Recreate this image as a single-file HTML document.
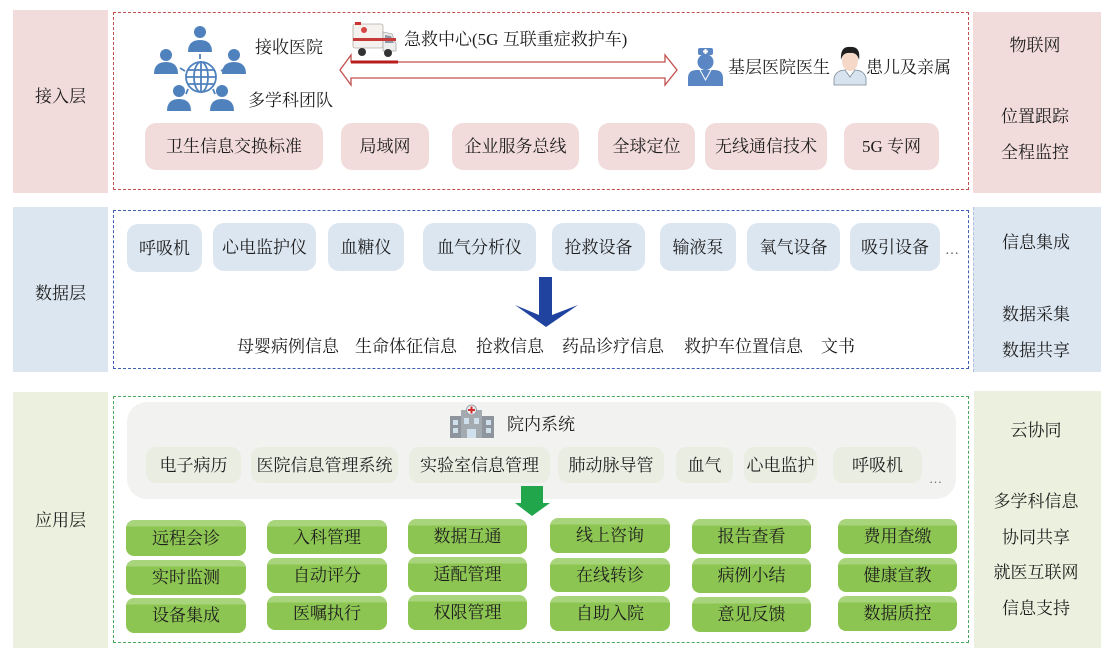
<!DOCTYPE html>
<html lang="zh">
<head>
<meta charset="utf-8">
<style>
  html,body{margin:0;padding:0;background:#fff;}
  body{width:1108px;height:653px;position:relative;overflow:hidden;
       font-family:"Liberation Serif","Noto Serif CJK SC",serif;color:#1e1e1e;font-size:17px;}
  .a{position:absolute;box-sizing:border-box;}
  .side-r{background:#f2dcdb;}
  .side-b{background:#dce6f1;}
  .side-g{background:#ebf1de;}
  .lbl{position:absolute;text-align:center;line-height:22px;white-space:nowrap;}
  .box{position:absolute;box-sizing:border-box;display:flex;align-items:center;justify-content:center;
       white-space:nowrap;line-height:1;}
  .pk{background:#f2dcdb;border-radius:11px;}
  .bl{background:#dce6f1;border-radius:11px;}
  .gy{background:#e9ede2;border-radius:10px;}
  .gr{background:linear-gradient(#a8d47c 0px,#a8d47c 6px,#8dc553 7px,#8dc553 100%);border-radius:8px;}
  .t{position:absolute;line-height:22px;white-space:nowrap;}
</style>
</head>
<body>

<!-- ===== Layer 1 : 接入层 ===== -->
<div class="a side-r" style="left:13px;top:10px;width:95px;height:183px;"></div>
<div class="lbl" style="left:13px;top:86px;width:95px;">接入层</div>
<div class="a" style="left:113px;top:12px;width:856px;height:178px;border:1px dashed #c0504d;"></div>
<div class="a side-r" style="left:973px;top:12px;width:128px;height:181px;"></div>
<div class="lbl" style="left:973px;top:35px;width:124px;">物联网</div>
<div class="lbl" style="left:973px;top:106px;width:124px;">位置跟踪</div>
<div class="lbl" style="left:973px;top:142px;width:124px;">全程监控</div>

<div class="t" style="left:255px;top:37px;">接收医院</div>
<div class="t" style="left:248px;top:90px;">多学科团队</div>
<div class="t" style="left:404px;top:29px;">急救中心(5G 互联重症救护车)</div>
<div class="t" style="left:728px;top:57px;">基层医院医生</div>
<div class="t" style="left:866px;top:57px;">患儿及亲属</div>

<div class="box pk" style="left:145px;top:123px;width:178px;height:47px;">卫生信息交换标准</div>
<div class="box pk" style="left:341px;top:123px;width:88px;height:47px;">局域网</div>
<div class="box pk" style="left:452px;top:123px;width:127px;height:47px;">企业服务总线</div>
<div class="box pk" style="left:598px;top:123px;width:97px;height:47px;">全球定位</div>
<div class="box pk" style="left:705px;top:123px;width:122px;height:47px;">无线通信技术</div>
<div class="box pk" style="left:844px;top:123px;width:95px;height:47px;">5G 专网</div>

<!-- ===== Layer 2 : 数据层 ===== -->
<div class="a side-b" style="left:13px;top:207px;width:95px;height:165px;"></div>
<div class="lbl" style="left:13px;top:283px;width:95px;">数据层</div>
<div class="a" style="left:113px;top:210px;width:856px;height:159px;border:1px dashed #3e5fae;"></div>
<div class="a side-b" style="left:973px;top:207px;width:128px;height:165px;border-left:1px dashed #b0c0dc;"></div>
<div class="lbl" style="left:973px;top:232px;width:126px;">信息集成</div>
<div class="lbl" style="left:973px;top:304px;width:126px;">数据采集</div>
<div class="lbl" style="left:973px;top:340px;width:126px;">数据共享</div>

<div class="box bl" style="left:127px;top:224px;width:75px;height:48px;">呼吸机</div>
<div class="box bl" style="left:213px;top:223px;width:103px;height:48px;">心电监护仪</div>
<div class="box bl" style="left:328px;top:223px;width:76px;height:48px;">血糖仪</div>
<div class="box bl" style="left:423px;top:223px;width:113px;height:48px;">血气分析仪</div>
<div class="box bl" style="left:552px;top:223px;width:93px;height:48px;">抢救设备</div>
<div class="box bl" style="left:660px;top:223px;width:76px;height:48px;">输液泵</div>
<div class="box bl" style="left:747px;top:223px;width:93px;height:48px;">氧气设备</div>
<div class="box bl" style="left:850px;top:223px;width:90px;height:48px;">吸引设备</div>
<div class="t" style="left:945px;top:240px;font-size:14px;color:#555;">…</div>

<div class="t" style="left:237px;top:336px;">母婴病例信息</div>
<div class="t" style="left:355px;top:336px;">生命体征信息</div>
<div class="t" style="left:476px;top:336px;">抢救信息</div>
<div class="t" style="left:562px;top:336px;">药品诊疗信息</div>
<div class="t" style="left:684px;top:336px;">救护车位置信息</div>
<div class="t" style="left:821px;top:336px;">文书</div>

<!-- ===== Layer 3 : 应用层 ===== -->
<div class="a side-g" style="left:13px;top:392px;width:95px;height:256px;"></div>
<div class="lbl" style="left:13px;top:510px;width:95px;">应用层</div>
<div class="a" style="left:113px;top:396px;width:856px;height:247px;border:1px dashed #4aa85c;"></div>
<div class="a side-g" style="left:974px;top:391px;width:127px;height:257px;"></div>
<div class="lbl" style="left:974px;top:420px;width:124px;">云协同</div>
<div class="lbl" style="left:974px;top:491px;width:124px;">多学科信息</div>
<div class="lbl" style="left:974px;top:527px;width:124px;">协同共享</div>
<div class="lbl" style="left:974px;top:562px;width:124px;">就医互联网</div>
<div class="lbl" style="left:974px;top:598px;width:124px;">信息支持</div>

<div class="a" style="left:127px;top:402px;width:829px;height:97px;background:#f2f2f0;border-radius:20px;"></div>
<div class="t" style="left:507px;top:414px;">院内系统</div>

<div class="box gy" style="left:146px;top:447px;width:95px;height:36px;">电子病历</div>
<div class="box gy" style="left:251px;top:447px;width:147px;height:36px;">医院信息管理系统</div>
<div class="box gy" style="left:409px;top:447px;width:141px;height:36px;">实验室信息管理</div>
<div class="box gy" style="left:558px;top:447px;width:106px;height:36px;">肺动脉导管</div>
<div class="box gy" style="left:676px;top:447px;width:57px;height:36px;">血气</div>
<div class="box gy" style="left:744px;top:447px;width:73px;height:36px;">心电监护</div>
<div class="box gy" style="left:833px;top:447px;width:89px;height:36px;">呼吸机</div>
<div class="t" style="left:929px;top:468px;font-size:13px;color:#666;">…</div>

<!-- green boxes -->
<div class="box gr" style="left:126px;top:520px;width:120px;height:36px;">远程会诊</div>
<div class="box gr" style="left:126px;top:560px;width:120px;height:35px;">实时监测</div>
<div class="box gr" style="left:126px;top:598px;width:120px;height:35px;">设备集成</div>

<div class="box gr" style="left:267px;top:520px;width:120px;height:34px;">入科管理</div>
<div class="box gr" style="left:267px;top:558px;width:120px;height:35px;">自动评分</div>
<div class="box gr" style="left:267px;top:596px;width:120px;height:34px;">医嘱执行</div>

<div class="box gr" style="left:408px;top:519px;width:119px;height:35px;">数据互通</div>
<div class="box gr" style="left:408px;top:557px;width:119px;height:35px;">适配管理</div>
<div class="box gr" style="left:408px;top:595px;width:119px;height:35px;">权限管理</div>

<div class="box gr" style="left:550px;top:518px;width:120px;height:35px;">线上咨询</div>
<div class="box gr" style="left:550px;top:558px;width:120px;height:34px;">在线转诊</div>
<div class="box gr" style="left:550px;top:596px;width:120px;height:35px;">自助入院</div>

<div class="box gr" style="left:692px;top:519px;width:119px;height:35px;">报告查看</div>
<div class="box gr" style="left:692px;top:558px;width:119px;height:35px;">病例小结</div>
<div class="box gr" style="left:692px;top:597px;width:119px;height:35px;">意见反馈</div>

<div class="box gr" style="left:838px;top:519px;width:119px;height:35px;">费用查缴</div>
<div class="box gr" style="left:838px;top:558px;width:119px;height:34px;">健康宣教</div>
<div class="box gr" style="left:838px;top:596px;width:119px;height:35px;">数据质控</div>

<!-- ===== Graphics overlay ===== -->
<svg class="a" style="left:0;top:0;" width="1108" height="653" viewBox="0 0 1108 653" xmlns="http://www.w3.org/2000/svg">
  <!-- double arrow -->
  <polygon points="340,70 351,55 351,62 665,62 665,55 677,70 665,85 665,78 351,78 351,85"
           fill="#fff" stroke="#c0504d" stroke-width="1.3"/>
  <line x1="351" y1="62" x2="398" y2="62" stroke="#b81c1c" stroke-width="3"/>

  <!-- people / globe icon -->
  <g fill="#4f81bd">
    <circle cx="200" cy="32" r="6"/>
    <path d="M188 52 Q188 40 200 40 Q212 40 212 52 Z"/>
    <circle cx="166" cy="55" r="6"/>
    <path d="M154 74 Q154 62 166 62 Q178 62 178 74 Z"/>
    <circle cx="234" cy="55" r="6"/>
    <path d="M222 74 Q222 62 234 62 Q246 62 246 74 Z"/>
    <circle cx="179" cy="91" r="6"/>
    <path d="M167 111 Q167 99 179 99 Q191 99 191 111 Z"/>
    <circle cx="222" cy="91" r="6"/>
    <path d="M210 111 Q210 99 222 99 Q234 99 234 111 Z"/>
  </g>
  <g fill="none" stroke="#4f81bd" stroke-width="1.8">
    <circle cx="201" cy="77" r="15"/>
    <ellipse cx="201" cy="77" rx="7" ry="15"/>
    <line x1="201" y1="62" x2="201" y2="92"/>
    <line x1="186" y1="77" x2="216" y2="77"/>
    <line x1="188" y1="70" x2="214" y2="70"/>
    <line x1="188" y1="84" x2="214" y2="84"/>
    <line x1="200" y1="54" x2="200" y2="59"/>
    <line x1="180" y1="68" x2="185" y2="71"/>
    <line x1="221" y1="71" x2="226" y2="68"/>
    <line x1="188" y1="89" x2="186" y2="94"/>
    <line x1="213" y1="89" x2="215" y2="94"/>
  </g>

  <!-- ambulance -->
  <g>
    <rect x="353" y="24" width="30" height="24" rx="2" fill="#f4f1ee" stroke="#b5aca5" stroke-width="0.8"/>
    <path d="M383 32 L392 34 L396 44 L396 51 L383 51 Z" fill="#eeeeee" stroke="#a9a9a9" stroke-width="0.8"/>
    <path d="M385 35 L391 36 L394 43 L385 43 Z" fill="#8e9aa5"/>
    <rect x="353" y="38" width="43" height="3" fill="#c63a3a"/>
    <circle cx="364" cy="30" r="3" fill="#d64545"/>
    <rect x="355" y="22" width="6" height="3" fill="#cc3333"/>
    <circle cx="362" cy="52" r="4" fill="#333"/>
    <circle cx="388" cy="53" r="4" fill="#333"/>
  </g>

  <!-- doctor -->
  <g>
    <rect x="698" y="48" width="15" height="7" rx="2" fill="#5a87c4"/>
    <rect x="704.5" y="49" width="2" height="5" fill="#fff"/>
    <rect x="703" y="50.5" width="5" height="2" fill="#fff"/>
    <circle cx="705.5" cy="62" r="8" fill="#5a87c4"/>
    <path d="M688 86 L688 78 Q688 70 697 70 L714 70 Q723 70 723 78 L723 86 Z" fill="#5a87c4"/>
    <path d="M700 70 L705.5 80 L711 70" fill="none" stroke="#fff" stroke-width="1"/>
  </g>

  <!-- patient -->
  <g>
    <path d="M834 85 L834 78 Q836 70 846 70 L854 70 Q864 70 866 78 L866 85 Z" fill="#d7e4ef" stroke="#7d8b96" stroke-width="0.8"/>
    <path d="M845 70 L850 77 L855 70" fill="#fff" stroke="#7d8b96" stroke-width="0.8"/>
    <ellipse cx="850" cy="61" rx="8" ry="10" fill="#f6d8c8"/>
    <path d="M841 60 Q840 46 850 47 Q861 46 859 60 Q857 52 850 53 Q843 52 841 60 Z" fill="#1f1f1f"/>
  </g>

  <!-- blue down arrow -->
  <polygon points="539,277 552,277 552,315 578,305 546,327 515,305 539,315" fill="#2143a0"/>

  <!-- hospital -->
  <g>
    <rect x="450" y="416" width="44" height="22" fill="#8e959c"/>
    <rect x="461" y="410" width="21" height="28" fill="#a3aab0"/>
    <circle cx="471.5" cy="410" r="5" fill="#e8eef3" stroke="#8e959c" stroke-width="0.8"/>
    <rect x="470.5" y="406.5" width="2" height="7" fill="#d62b2b"/>
    <rect x="468" y="409" width="7" height="2" fill="#d62b2b"/>
    <g fill="#cfe0ec">
      <rect x="453" y="420" width="5" height="5"/><rect x="453" y="428" width="5" height="5"/>
      <rect x="486" y="420" width="5" height="5"/><rect x="486" y="428" width="5" height="5"/>
      <rect x="464" y="418" width="5" height="6"/><rect x="474" y="418" width="5" height="6"/>
      <rect x="467" y="429" width="9" height="9"/>
    </g>
  </g>

  <!-- green down arrow -->
  <polygon points="521,486 543,486 543,503 550,503 532,516 515,503 521,503" fill="#22a64b"/>
</svg>

</body>
</html>
